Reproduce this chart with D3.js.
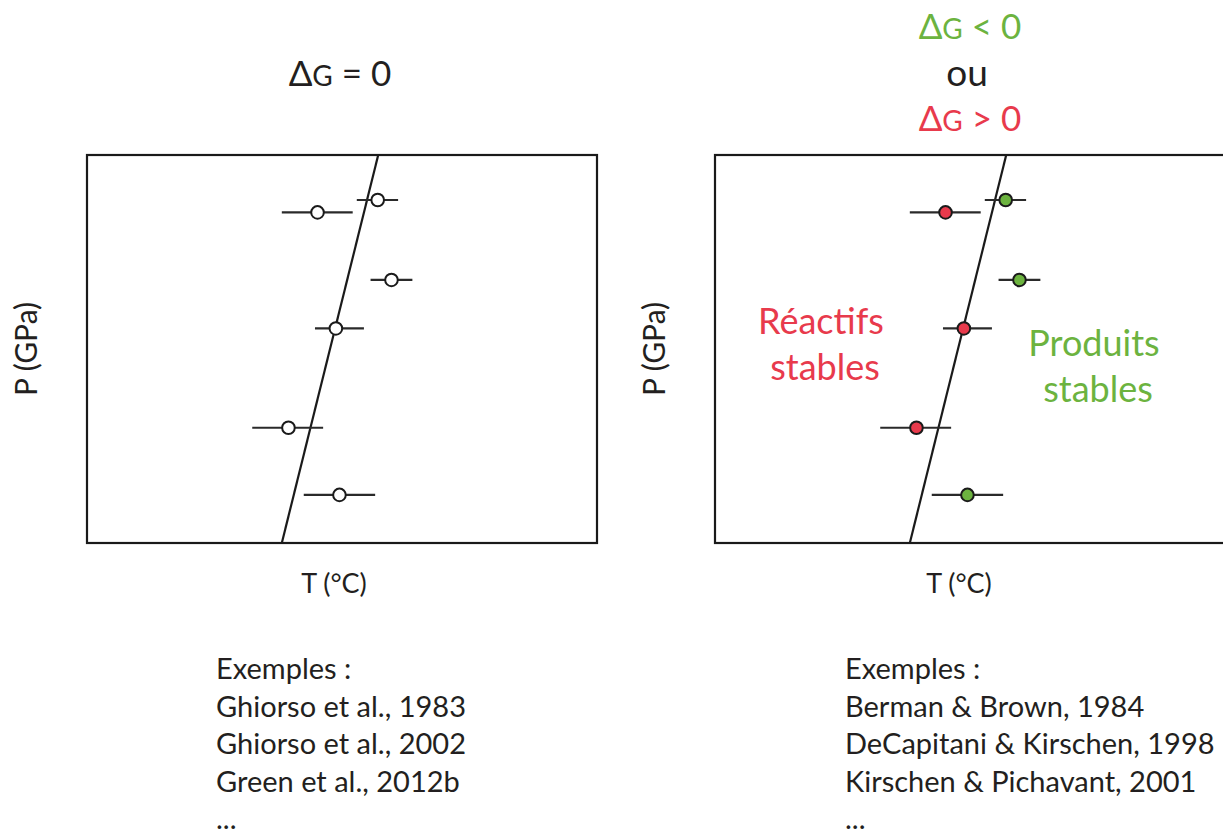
<!DOCTYPE html>
<html><head><meta charset="utf-8">
<script src="https://cdn.jsdelivr.net/npm/d3@7"></script>
<style>
html,body{margin:0;padding:0;background:#fff;}
svg{display:block;}
text{font-family:Lato,"Noto Sans",sans-serif;}
</style></head>
<body>
<script>
// ---- data (T and P in arbitrary relative units 0-100) ----
const tValues = [45.2, 57.0, 59.7, 48.8, 39.5, 49.5];
const tLow    = [38.2, 52.9, 55.6, 44.7, 32.4, 42.5];
const tHigh   = [52.1, 61.0, 63.8, 54.3, 46.3, 56.5];
const pValues = [85.2, 88.4, 67.8, 55.3, 29.7, 12.4];
const deltaGSign = ["pos", "neg", "neg", "pos", "pos", "neg"]; // pos: ΔG>0, neg: ΔG<0
const equilibriumT = [38.2, 57.1];
const equilibriumP = [0, 100];
const leftRefs  = ["Exemples :", "Ghiorso et al., 1983", "Ghiorso et al., 2002", "Green et al., 2012b", "..."];
const rightRefs = ["Exemples :", "Berman & Brown, 1984", "DeCapitani & Kirschen, 1998", "Kirschen & Pichavant, 2001", "..."];
const xLabel = "T (°C)";
const yLabel = "P (GPa)";

const W = 1223, H = 835;
const RED = "#e83a4c", GREEN = "#6cb33f";
const svg = d3.select("body").append("svg").attr("width", W).attr("height", H);

const data = tValues.map((t, i) => ({t, lo: tLow[i], hi: tHigh[i], p: pValues[i], s: deltaGSign[i]}));

function panel(x0, colored, tLabelX) {
  const w = 510, h = 388, y0 = 155;
  const x = d3.scaleLinear().domain([0, 100]).range([x0, x0 + w]);
  const y = d3.scaleLinear().domain([0, 100]).range([y0 + h, y0]);
  const g = svg.append("g");
  // equilibrium line
  g.append("line")
    .attr("x1", x(equilibriumT[0])).attr("y1", y(equilibriumP[0]))
    .attr("x2", x(equilibriumT[1])).attr("y2", y(equilibriumP[1]))
    .attr("stroke", "#1a1a1a").attr("stroke-width", 2.2);
  // error bars
  g.selectAll(".eb").data(data).join("line")
    .attr("x1", d => x(d.lo)).attr("x2", d => x(d.hi))
    .attr("y1", d => y(d.p)).attr("y2", d => y(d.p))
    .attr("stroke", "#2a2a2a").attr("stroke-width", 2.2);
  // points
  g.selectAll(".pt").data(data).join("circle")
    .attr("cx", d => x(d.t)).attr("cy", d => y(d.p)).attr("r", 6.3)
    .attr("fill", d => colored ? (d.s === "pos" ? RED : GREEN) : "#fff")
    .attr("stroke", "#1a1a1a").attr("stroke-width", 2);
  // frame
  g.append("rect").attr("x", x0).attr("y", y0).attr("width", w).attr("height", h)
    .attr("fill", "none").attr("stroke", "#1a1a1a").attr("stroke-width", 2.2);
  // axis labels
  svg.append("text").attr("x", tLabelX).attr("y", 593).attr("text-anchor", "middle")
    .attr("font-size", 27).attr("fill", "#231f20").text(xLabel);
  svg.append("text").attr("transform", `translate(${x0 - 50},${y0 + h / 2}) rotate(-90)`)
    .attr("text-anchor", "middle").attr("font-size", 30).attr("fill", "#231f20").text(yLabel);
  return {x, y};
}

panel(87, false, 334);
panel(715, true, 959);

function deltaTitle(cx, cy, rest, color) {
  const t = svg.append("text").attr("x", cx).attr("y", cy).attr("text-anchor", "middle")
    .attr("font-size", 35).attr("fill", color);
  t.append("tspan").text("Δ");
  t.append("tspan").attr("font-size", 28).text("G");
  t.append("tspan").text(rest);
}
deltaTitle(340, 86, " = 0", "#231f20");
deltaTitle(970, 39, " < 0", GREEN);
svg.append("text").attr("x", 967).attr("y", 86).attr("text-anchor", "middle")
  .attr("font-size", 37).attr("fill", "#231f20").text("ou");
deltaTitle(970, 131, " > 0", RED);

// region labels
[["Réactifs", 821, 334, RED], ["stables", 825, 380, RED],
 ["Produits", 1094, 356, GREEN], ["stables", 1098, 402, GREEN]].forEach(([s, x, y, c]) => {
  svg.append("text").attr("x", x).attr("y", y).attr("text-anchor", "middle")
    .attr("font-size", 36).attr("fill", c).text(s);
});

function refs(list, x0) {
  svg.append("g").selectAll("text").data(list).join("text")
    .attr("x", x0).attr("y", (d, i) => 679 + i * 37.5)
    .attr("font-size", 29).attr("fill", "#231f20").text(d => d);
}
refs(leftRefs, 216);
refs(rightRefs, 845);
</script>
</body></html>
